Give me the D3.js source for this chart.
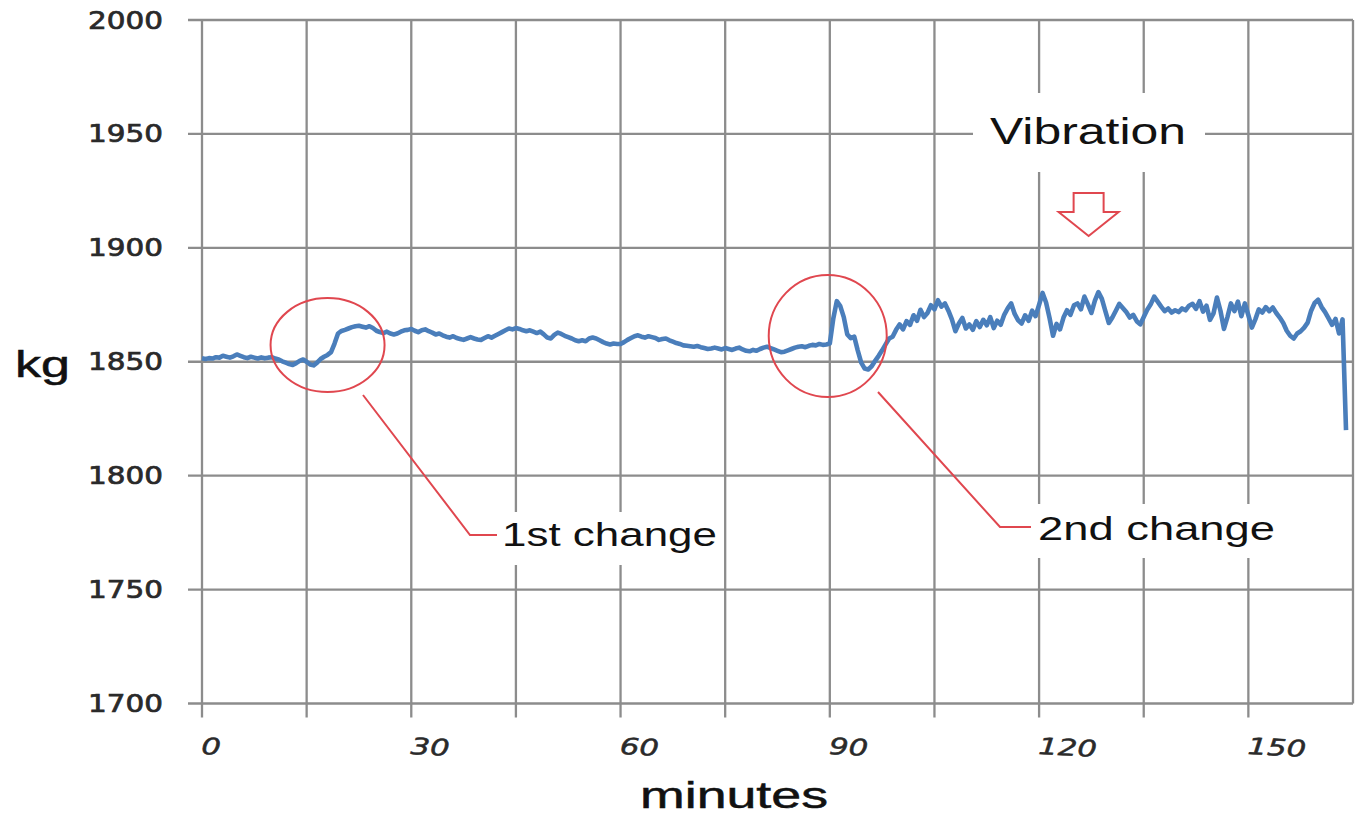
<!DOCTYPE html>
<html>
<head>
<meta charset="utf-8">
<script src="https://cdn.jsdelivr.net/npm/d3@7"></script>
<style>
  body { margin: 0; background: #fff; }
  svg { display: block; }
</style>
</head>
<body>
<div id="chart"></div>
<script>
// y axis (kg) tick values
var kgTicks = [1700, 1750, 1800, 1850, 1900, 1950, 2000];
// vertical grid every 15 minutes, labels every 30
var gridMinutes = [0, 15, 30, 45, 60, 75, 90, 105, 120, 135, 150, 165];
var labelMinutes = [0, 30, 60, 90, 120, 150];

// load readings, one every half minute
var sampleStep = 0.5;
var kg = [
  // 0 - 10 min
  1851.5,1851.2,1851.6,1851.4,1852,1851.8,1852.6,1852.2,1851.8,1852.4,1853.2,1852.6,1852,1851.6,1852.2,1851.8,1851.4,1851.9,1851.5,1851.8,
  // 10 - 20
  1852,1851.4,1851,1850.2,1849.6,1849,1848.6,1849.4,1850.4,1851,1850,1848.8,1848.4,1849.6,1851.2,1852.2,1853,1854.2,1858,1862.4,
  // 20 - 30
  1863.5,1864,1864.6,1865.2,1865.6,1865.8,1865.4,1865,1865.6,1864.8,1863.6,1863,1862.6,1863.2,1862.4,1862,1862.4,1863.2,1863.8,1864,
  // 30 - 40
  1864.4,1863.6,1863,1863.8,1864.2,1863.4,1862.8,1862,1862.4,1861.6,1861,1860.6,1861.2,1860.4,1860,1859.6,1860.2,1860.8,1860.2,1859.8,
  // 40 - 50
  1859.6,1860.4,1861.2,1860.6,1861.4,1862.2,1863,1863.8,1864.6,1864.2,1864.8,1864.4,1863.8,1863.4,1863.8,1863.2,1862.6,1863.2,1862,1860.6,
  // 50 - 60
  1860.2,1861.8,1862.8,1862.2,1861.4,1860.8,1860.2,1859.4,1859,1859.4,1859,1860.2,1860.6,1860.2,1859.4,1858.6,1858,1857.6,1858,1857.8,
  // 60 - 70
  1857.8,1858.6,1859.6,1860.4,1861.2,1861.6,1861,1860.6,1861.2,1860.8,1860.4,1859.6,1860,1860.2,1859.4,1858.8,1858.2,1857.8,1857.2,1857,
  // 70 - 80
  1856.8,1856.6,1856.9,1856.4,1856,1855.6,1855.8,1856.2,1855.8,1855.4,1856,1855.6,1855.2,1855.8,1856.2,1855.4,1854.8,1854.6,1855.2,1854.8,
  // 80 - 90
  1855.6,1856.2,1856.6,1856,1855.4,1854.8,1854.2,1854.4,1855,1855.6,1856.2,1856.6,1856.8,1856.4,1857,1857.4,1857.2,1857.8,1857.4,1857.6,
  // 90 - 100
  1858,1869,1876.6,1874.4,1869.6,1862,1860.4,1861,1855,1849.6,1847,1846.6,1848,1850.4,1852.6,1855,1857.6,1860.2,1861,1864,
  // 100 - 110
  1866.4,1864.2,1867.8,1866.2,1870.4,1868,1872.8,1869.6,1871.4,1874.8,1873,1877,1874.2,1875.6,1872.4,1868.6,1863.4,1866.8,1869.2,1864.6,
  // 110 - 120
  1866.4,1864,1867.8,1865.2,1868.4,1866,1869.6,1864.8,1868,1866.2,1870.6,1873.4,1875.6,1871,1868.2,1866.8,1870.4,1868,1872.4,1870,
  // 120 - 130
  1875,1880.2,1876,1869.2,1861.4,1866.6,1864.2,1869.4,1872.6,1870.6,1874.8,1875.6,1873,1878.6,1875.2,1871.4,1876.8,1880.6,1877.6,1872.2,
  // 130 - 140
  1867,1869.4,1872.4,1875.4,1873.6,1871.8,1869.4,1870.6,1867.8,1866.4,1869.6,1872.8,1875.2,1878.6,1876.4,1874.2,1872.2,1873.4,1871.6,1872.6,
  // 140 - 150
  1871.8,1873.4,1872.6,1874.6,1875.4,1873.2,1876.6,1872,1874.6,1868.4,1871.2,1878.2,1872.4,1864.4,1869.6,1875.6,1872.2,1876.4,1870,1875.6,
  // 150 - 160
  1870.4,1865,1868.6,1873,1871.6,1874,1872.2,1873.8,1871.4,1869.4,1867,1863.6,1861.4,1860.2,1862.4,1863.4,1865,1867.2,1872.4,1875.8,
  // 160 - 164
  1877.2,1874,1871.8,1869,1866.2,1868.8,1862.4,1868.6,1820
];
var minutes = kg.map(function(d, i){ return i * sampleStep; });

var w = 1355, h = 815;

var svg = d3.select("#chart")
  .append("svg")
  .attr("width", w)
  .attr("height", h);

var x = d3.scaleLinear()
  .domain([0, 165])
  .range([202, 1353]);

var y = d3.scaleLinear()
  .domain([1700, 2000])
  .range([703.5, 20]);

var gridColor = "#8c8c8c";
var red = "#e0474f";

// gridlines (they stick out 14px past the axes like the excel ticks)
svg.append("g")
  .selectAll("line")
  .data(kgTicks)
  .enter()
  .append("line")
  .attr("x1", x(0) - 14)
  .attr("x2", x(165))
  .attr("y1", function(d){ return y(d); })
  .attr("y2", function(d){ return y(d); })
  .attr("stroke", gridColor)
  .attr("stroke-width", 2.3);

svg.append("g")
  .selectAll("line")
  .data(gridMinutes)
  .enter()
  .append("line")
  .attr("x1", function(d){ return x(d); })
  .attr("x2", function(d){ return x(d); })
  .attr("y1", y(2000))
  .attr("y2", function(d){ return d == 165 ? y(1700) : y(1700) + 14; })
  .attr("stroke", gridColor)
  .attr("stroke-width", 2.3);

// y tick labels
svg.append("g")
  .selectAll("text")
  .data(kgTicks)
  .enter()
  .append("text")
  .attr("x", 88)
  .attr("y", function(d){ return y(d) + 8.5; })
  .attr("textLength", 75)
  .attr("lengthAdjust", "spacingAndGlyphs")
  .style("font-family", "DejaVu Sans, Verdana, sans-serif")
  .style("font-size", "24px")
  .style("fill", "#2a2a2a")
  .style("stroke", "#2a2a2a")
  .style("stroke-width", 0.7)
  .text(function(d){ return d; });

// x tick labels (italic, a little tilted)
svg.append("g")
  .selectAll("text")
  .data(labelMinutes)
  .enter()
  .append("text")
  .attr("transform", function(d){ return "translate(" + (x(d) - 1) + ",754) rotate(3)"; })
  .attr("textLength", function(d){ return String(d).length * 19.5; })
  .attr("lengthAdjust", "spacingAndGlyphs")
  .style("font-family", "DejaVu Sans, sans-serif")
  .style("font-style", "italic")
  .style("font-size", "23px")
  .style("fill", "#2a2a2a")
  .style("stroke", "#2a2a2a")
  .style("stroke-width", 0.5)
  .text(function(d){ return d; });

// axis titles
svg.append("text")
  .attr("x", 15)
  .attr("y", 377)
  .attr("textLength", 55)
  .attr("lengthAdjust", "spacingAndGlyphs")
  .style("font-family", "Liberation Sans, Arial, sans-serif")
  .style("font-size", "37px")
  .style("fill", "#111")
  .style("stroke", "#111")
  .style("stroke-width", 0.5)
  .text("kg");

svg.append("text")
  .attr("x", 640)
  .attr("y", 808)
  .attr("textLength", 188)
  .attr("lengthAdjust", "spacingAndGlyphs")
  .style("font-family", "Liberation Sans, Arial, sans-serif")
  .style("font-size", "37px")
  .style("fill", "#111")
  .style("stroke", "#111")
  .style("stroke-width", 0.5)
  .text("minutes");

// white boxes behind the callout texts
var boxes = [
  {x0: 973, x1: 1205, y0: 93, y1: 172},
  {x0: 498, x1: 722, y0: 512, y1: 565},
  {x0: 1033, x1: 1280, y0: 504, y1: 558}
];
svg.append("g")
  .selectAll("rect")
  .data(boxes)
  .enter()
  .append("rect")
  .attr("x", function(d){ return d.x0; })
  .attr("y", function(d){ return d.y0; })
  .attr("width", function(d){ return d.x1 - d.x0; })
  .attr("height", function(d){ return d.y1 - d.y0; })
  .attr("fill", "#fff");

// the data line
var line = d3.line()
  .x(function(d, i){ return x(minutes[i]); })
  .y(function(d){ return y(d); });

svg.append("path")
  .datum(kg)
  .attr("d", line)
  .attr("fill", "none")
  .attr("stroke", "#4a7ebb")
  .attr("stroke-width", 4.6)
  .attr("stroke-linejoin", "round");

// red circles round the two changes
svg.append("ellipse")
  .attr("cx", x(18))
  .attr("cy", y(1857.3))
  .attr("rx", 57)
  .attr("ry", 47)
  .attr("fill", "none")
  .attr("stroke", red)
  .attr("stroke-width", 2);

svg.append("ellipse")
  .attr("cx", x(89.7))
  .attr("cy", y(1861.3))
  .attr("rx", 59)
  .attr("ry", 61)
  .attr("fill", "none")
  .attr("stroke", red)
  .attr("stroke-width", 2);

// leader lines
svg.append("polyline")
  .attr("points", "363,395 470,535 497,535")
  .attr("fill", "none")
  .attr("stroke", red)
  .attr("stroke-width", 2);

svg.append("polyline")
  .attr("points", "878,392 1000,527 1031,527")
  .attr("fill", "none")
  .attr("stroke", red)
  .attr("stroke-width", 2);

// callout texts
svg.append("text")
  .attr("x", 502)
  .attr("y", 546)
  .attr("textLength", 215)
  .attr("lengthAdjust", "spacingAndGlyphs")
  .style("font-family", "Liberation Sans, Arial, sans-serif")
  .style("font-size", "33px")
  .style("fill", "#111")
  .text("1st change");

svg.append("text")
  .attr("x", 1038)
  .attr("y", 540)
  .attr("textLength", 237)
  .attr("lengthAdjust", "spacingAndGlyphs")
  .style("font-family", "Liberation Sans, Arial, sans-serif")
  .style("font-size", "33px")
  .style("fill", "#111")
  .text("2nd change");

svg.append("text")
  .attr("x", 990)
  .attr("y", 144)
  .attr("textLength", 196)
  .attr("lengthAdjust", "spacingAndGlyphs")
  .style("font-family", "Liberation Sans, Arial, sans-serif")
  .style("font-size", "37px")
  .style("fill", "#111")
  .text("Vibration");

// hollow down arrow under "Vibration"
var ax = x(127.1);
svg.append("path")
  .attr("d", "M" + (ax - 15) + ",193 H" + (ax + 15) + " V212 H" + (ax + 30) +
             " L" + ax + ",236 L" + (ax - 30) + ",212 H" + (ax - 15) + " Z")
  .attr("fill", "#fff")
  .attr("stroke", red)
  .attr("stroke-width", 2);
</script>
</body>
</html>
